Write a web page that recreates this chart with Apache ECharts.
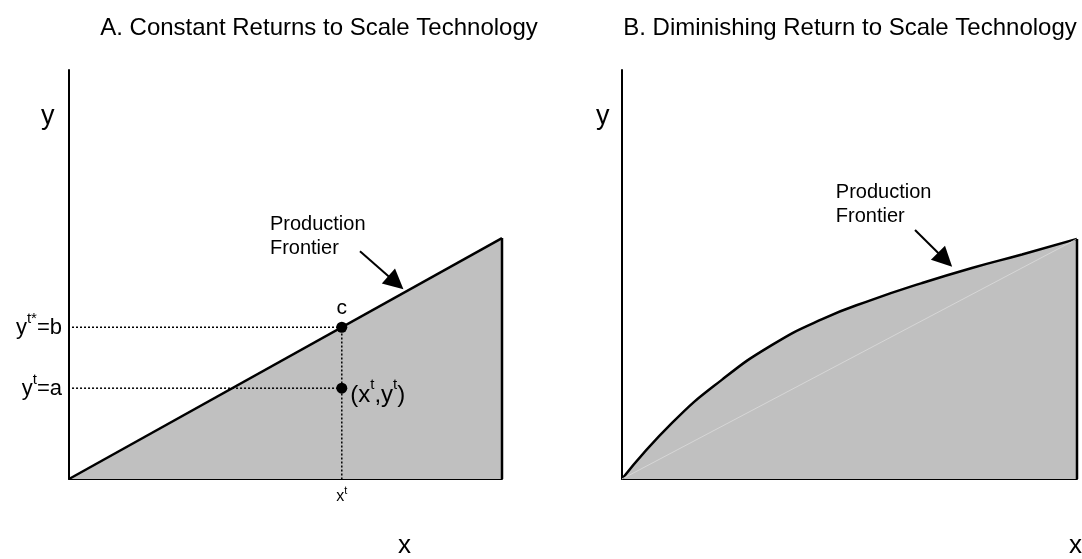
<!DOCTYPE html>
<html>
<head>
<meta charset="utf-8">
<script src="https://cdn.jsdelivr.net/npm/echarts@6/dist/echarts.min.js"></script>
<style>html,body{margin:0;padding:0;background:#fff;}#c{width:1082px;height:559px;}</style>
</head>
<body>
<div id="c"></div>
<script>
// ---- data ----
const titles = ['A. Constant Returns to Scale Technology', 'B. Diminishing Return to Scale Technology'];
// Panel A: constant returns frontier (x, y)
const crsX = [0, 10];
const crsY = [0, 5.89];
// observed point and its projection
const obsX = 6.30;
const obsY = 2.22;     // y^t = a
const frontY = 3.71;   // y^t* = b
// Panel B: diminishing returns frontier
const drsX = [0, 1.10, 2.20, 3.30, 4.40, 5.49, 6.59, 7.69, 8.79, 10];
const drsY = [0, 1.37, 2.43, 3.28, 3.91, 4.38, 4.79, 5.16, 5.49, 5.87];
// annotation anchors (data coords)
const labelA = [4.64, 5.93];
const arrowA = [[6.72, 5.57], [7.55, 4.80]];
const labelB = [4.70, 6.72];
const arrowB = [[6.44, 6.09], [7.10, 5.36]];

const FONT = 'Liberation Sans, Arial, Helvetica, sans-serif';
const zip = (xs, ys) => xs.map((x, i) => [x, ys[i]]);

const axisCommon = {
  type: 'value', min: 0, max: 10,
  splitLine: { show: false },
  axisTick: { show: false },
  axisLine: { show: true, onZero: false, lineStyle: { color: '#000', width: 2 } }
};
const noLabel = { show: false };
const txt = (size, extra) => Object.assign({ fontSize: size, color: '#000', fontFamily: FONT, opacity: 1, textBorderWidth: 0 }, extra || {});

const chart = echarts.init(document.getElementById('c'), null, { renderer: 'canvas' });
chart.setOption({
  animation: false,
  backgroundColor: '#fff',
  textStyle: { fontFamily: FONT, color: '#000' },
  title: [
    { text: titles[0], left: 314, top: 11, textAlign: 'center',
      textStyle: { fontFamily: FONT, fontSize: 24, fontWeight: 'normal', color: '#000' } },
    { text: titles[1], left: 845, top: 11, textAlign: 'center',
      textStyle: { fontFamily: FONT, fontSize: 24, fontWeight: 'normal', color: '#000' } }
  ],
  grid: [
    { left: 69, top: 70, width: 433, height: 409 },
    { left: 622, top: 70, width: 455, height: 409 }
  ],
  xAxis: [
    Object.assign({}, axisCommon, { gridIndex: 0,
      axisLabel: { show: true, customValues: [obsX], margin: 8,
        formatter: () => '{m|x}{s|t}',
        rich: { m: txt(16, { verticalAlign: 'bottom', lineHeight: 18 }),
                s: txt(11, { verticalAlign: 'bottom', lineHeight: 10, padding: [0, 0, 9, 0] }) } } }),
    Object.assign({}, axisCommon, { gridIndex: 1, axisLabel: noLabel })
  ],
  yAxis: [
    Object.assign({}, axisCommon, { gridIndex: 0,
      axisLabel: { show: true, customValues: [obsY, frontY], margin: 7,
        formatter: (v) => v === frontY ? '{m|y}{s|t*}{m|=b}' : '{m|y}{s|t}{m|=a}',
        rich: { m: txt(22, { verticalAlign: 'bottom', lineHeight: 24 }),
                s: txt(15, { verticalAlign: 'bottom', lineHeight: 12, padding: [0, 0, 13, 0] }) } } }),
    Object.assign({}, axisCommon, { gridIndex: 1, axisLabel: noLabel })
  ],
  graphic: [
    { type: 'text', left: 41, top: 103, style: { text: 'y', font: '27px ' + FONT, fill: '#000' } },
    { type: 'text', left: 596, top: 103, style: { text: 'y', font: '27px ' + FONT, fill: '#000' } },
    { type: 'text', left: 398, top: 533, style: { text: 'x', font: '26px ' + FONT, fill: '#000' } },
    { type: 'text', left: 1069, top: 533, style: { text: 'x', font: '26px ' + FONT, fill: '#000' } }
  ],
  series: [
    // Panel A frontier with feasible region
    { type: 'line', xAxisIndex: 0, yAxisIndex: 0, data: zip(crsX, crsY), symbol: 'none',
      lineStyle: { color: '#000', width: 2.5 }, areaStyle: { color: '#c0c0c0', opacity: 1 }, z: 2 },
    { type: 'line', xAxisIndex: 0, yAxisIndex: 0, data: [[crsX[1], 0], [crsX[1], crsY[1]]], symbol: 'none',
      lineStyle: { color: '#000', width: 2.5 }, z: 3 },
    // dotted guides
    { type: 'line', xAxisIndex: 0, yAxisIndex: 0, data: [[0.07, frontY], [obsX, frontY], [obsX, 0]], symbol: 'none',
      lineStyle: { color: '#000', width: 1.5, type: [2, 2] }, z: 4 },
    { type: 'line', xAxisIndex: 0, yAxisIndex: 0, data: [[0.07, obsY], [obsX, obsY]], symbol: 'none',
      lineStyle: { color: '#000', width: 1.5, type: [2, 2] }, z: 4 },
    // points
    { type: 'scatter', xAxisIndex: 0, yAxisIndex: 0, symbolSize: 11, itemStyle: { color: '#000', opacity: 1 }, z: 5,
      data: [
        { value: [obsX, frontY], label: Object.assign({ show: true, position: 'top', distance: 3, formatter: 'c' }, txt(21)) },
        { value: [obsX, obsY], label: { show: true, position: 'right', distance: 3, offset: [0, 6],
          formatter: '{m|(x}{s|t}{m|,y}{s|t}{m|)}',
          rich: { m: txt(24, { verticalAlign: 'bottom', lineHeight: 26 }),
                  s: txt(15, { verticalAlign: 'bottom', lineHeight: 12, padding: [0, 0, 15, 0] }) } } }
      ] },
    // Panel A annotation
    { type: 'scatter', xAxisIndex: 0, yAxisIndex: 0, symbolSize: 0, silent: true, z: 6,
      data: [labelA],
      label: Object.assign({ show: true, position: 'right', distance: 0, formatter: 'Production\nFrontier', align: 'left',
        lineHeight: 24 }, txt(20)) },
    { type: 'lines', coordinateSystem: 'cartesian2d', xAxisIndex: 0, yAxisIndex: 0, z: 6,
      symbol: ['none', 'triangle'], symbolSize: [17, 20],
      lineStyle: { color: '#000', width: 2, opacity: 1 }, itemStyle: { color: '#000' },
      data: [{ coords: arrowA }] },

    // Panel B
    { type: 'line', xAxisIndex: 1, yAxisIndex: 1, data: zip(drsX, drsY), symbol: 'none', smooth: 0.5,
      lineStyle: { color: '#000', width: 2.5 }, areaStyle: { color: '#c0c0c0', opacity: 1 }, z: 2 },
    { type: 'line', xAxisIndex: 1, yAxisIndex: 1, data: [[drsX[0], drsY[0]], [drsX[drsX.length - 1], drsY[drsY.length - 1]]],
      symbol: 'none', lineStyle: { color: '#d6d6d6', width: 1 }, z: 3 },
    { type: 'line', xAxisIndex: 1, yAxisIndex: 1, data: [[drsX[drsX.length - 1], 0], [drsX[drsX.length - 1], drsY[drsY.length - 1]]],
      symbol: 'none', lineStyle: { color: '#000', width: 2.5 }, z: 3 },
    { type: 'scatter', xAxisIndex: 1, yAxisIndex: 1, symbolSize: 0, silent: true, z: 6,
      data: [labelB],
      label: Object.assign({ show: true, position: 'right', distance: 0, formatter: 'Production\nFrontier', align: 'left',
        lineHeight: 24 }, txt(20)) },
    { type: 'lines', coordinateSystem: 'cartesian2d', xAxisIndex: 1, yAxisIndex: 1, z: 6,
      symbol: ['none', 'triangle'], symbolSize: [17, 20],
      lineStyle: { color: '#000', width: 2, opacity: 1 }, itemStyle: { color: '#000' },
      data: [{ coords: arrowB }] }
  ]
});
</script>
</body>
</html>
